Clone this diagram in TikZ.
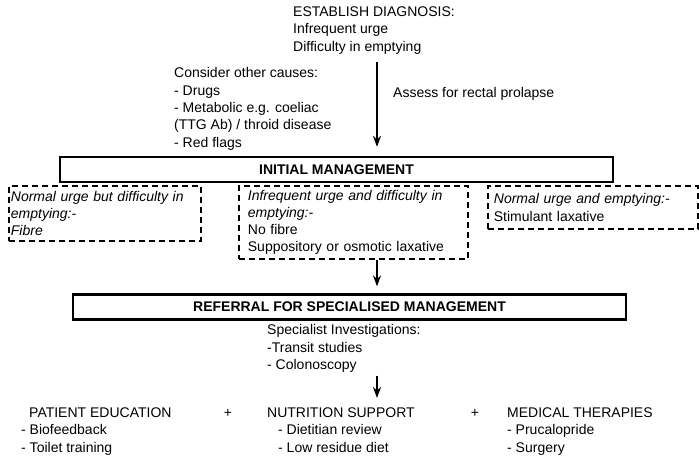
\documentclass[tikz,border=0pt]{standalone}
\usepackage{fontspec}
\setmainfont{Liberation Sans}
\usetikzlibrary{arrows.meta,positioning}
\tikzstyle{arrow} = [line width=1.8pt,-{Stealth[length=11pt,width=8pt]}]
\tikzstyle{mainbox} = [rectangle, draw, line width=2.3pt, minimum height=25pt, inner sep=0pt, font=\fontsize{14}{16}\selectfont\bfseries]
\tikzstyle{optionbox} = [rectangle, draw, line width=1.8pt, dash pattern=on 6pt off 4pt, anchor=north west, align=left, inner ysep=0pt]
\tikzstyle{plain} = [inner sep=0pt, align=left, anchor=north west]

\begin{document}
\begin{tikzpicture}[x=1pt, y=-1pt, font=\fontsize{14}{17.3}\selectfont]
\useasboundingbox (0,0) rectangle (699,460);
\coordinate (axis) at (377,0);

% Diagnosis and first step
\node (diagnosis) [plain] at (293,6.5) {ESTABLISH DIAGNOSIS:\\Infrequent urge\\Difficulty in emptying};
\node (causes) [plain] at (174,67.5) {Consider other causes:\\- Drugs\\- Metabolic e.g. coeliac\\(TTG Ab) / throid disease\\- Red flags};
\node (assess) [inner sep=0pt, anchor=west] at (393,94) {Assess for rectal prolapse};
\node (initial) [mainbox, minimum width=553pt] at (336.5,169.5) {INITIAL MANAGEMENT};

% Options under initial management
\node (optA) [optionbox, inner xsep=2pt, text width=188pt, minimum height=55pt] at (8,185)
  {\itshape Normal urge but difficulty in\\emptying:-\\Fibre};
\node (optB) [optionbox, inner xsep=9pt, text width=211pt, minimum height=73pt] at (238,185)
  {\itshape Infrequent urge and difficulty in\\emptying:-\\\upshape No fibre\\Suppository or osmotic laxative};
\node (optC) [optionbox, inner xsep=6pt, text width=198pt, minimum height=43pt] at (487,185)
  {\itshape Normal urge and emptying:-\\\upshape Stimulant laxative};

% Specialised management
\node (referral) [mainbox, minimum width=553pt] at (349.5,307) {REFERRAL FOR SPECIALISED MANAGEMENT};
\node (special) [plain] at (267,324.5) {Specialist Investigations:\\-Transit studies\\- Colonoscopy};

\node (education) [plain] at (21,407.5) {\hspace*{8pt}PATIENT EDUCATION\\- Biofeedback\\- Toilet training};
\node (plus1) [inner sep=0pt] at (228,413) {+};
\node (nutrition) [plain] at (267,407.5) {NUTRITION SUPPORT\\\hspace*{11pt}- Dietitian review\\\hspace*{11pt}- Low residue diet};
\node (plus2) [inner sep=0pt] at (475,413) {+};
\node (therapies) [plain] at (507,407.5) {MEDICAL THERAPIES\\- Prucalopride\\- Surgery};

\draw[arrow, shorten <=8pt, shorten >=9pt] (diagnosis.south -| axis) -- (initial.north -| axis);
\draw[arrow, shorten >=7pt] (optB.south -| axis) -- (referral.north -| axis);
\draw[arrow, shorten <=3pt, shorten >=9.5pt] (special.south -| axis) -- (nutrition.north -| axis);
\end{tikzpicture}
\end{document}
